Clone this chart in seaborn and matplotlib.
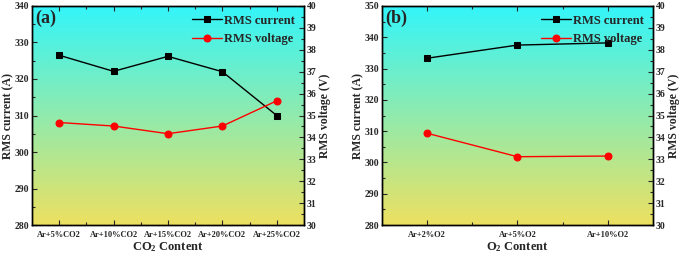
import numpy as np
import pandas as pd
import seaborn as sns
import matplotlib.pyplot as plt
from matplotlib.ticker import MultipleLocator

# panel (a): CO2 content
co2_labels = ["Ar+5%CO2", "Ar+10%CO2", "Ar+15%CO2", "Ar+20%CO2", "Ar+25%CO2"]
co2_current = [326.5, 322.1, 326.2, 322.0, 310.0]
co2_voltage = [34.68, 34.52, 34.17, 34.52, 35.67]

# panel (b): O2 content
o2_labels = ["Ar+2%O2", "Ar+5%O2", "Ar+10%O2"]
o2_current = [333.3, 337.5, 338.2]
o2_voltage = [34.19, 33.12, 33.15]

sns.set_style("ticks")
plt.rcParams['font.family'] = ['Liberation Serif', 'DejaVu Serif']
plt.rcParams['font.weight'] = 'bold'
plt.rcParams['mathtext.fontset'] = 'custom'
plt.rcParams['mathtext.bf'] = 'Liberation Serif:bold'
plt.rcParams['mathtext.rm'] = 'Liberation Serif:bold'
plt.rcParams['mathtext.default'] = 'bf'

fig = plt.figure(figsize=(6.85, 2.59), dpi=100)
ax_a = fig.add_axes([0.0467, 0.131, 0.397, 0.846])
ax_b = fig.add_axes([0.5577, 0.131, 0.3953, 0.846])

top_col = np.array([0.20, 0.96, 0.98])
bot_col = np.array([0.93, 0.88, 0.38])
grad = np.linspace(0, 1, 256)[:, None, None]
grad_img = top_col * (1 - grad) + bot_col * grad


def draw_panel(ax, labels, current, voltage, ylim, tag, xlabel):
    ax.imshow(grad_img, extent=[0, 1, 0, 1], transform=ax.transAxes,
              aspect='auto', zorder=0)
    df = pd.DataFrame({"cond": labels, "current": current, "voltage": voltage})
    sns.lineplot(data=df, x="cond", y="current", ax=ax, color="black",
                 marker="s", markersize=5, linewidth=1, markeredgecolor="black",
                 label="RMS current", legend=False, sort=False, zorder=3)
    ax2 = ax.twinx()
    sns.lineplot(data=df, x="cond", y="voltage", ax=ax2, color="red",
                 marker="o", markersize=5, linewidth=1, markeredgecolor="red",
                 label="RMS voltage", legend=False, sort=False, zorder=3)
    n = len(labels)
    ax.set_xlim(-0.5, n - 0.5)
    ax.set_ylim(*ylim)
    ax2.set_ylim(30, 40)
    ax.yaxis.set_major_locator(MultipleLocator(10))
    ax.yaxis.set_minor_locator(MultipleLocator(5))
    ax2.yaxis.set_major_locator(MultipleLocator(1))
    ax2.yaxis.set_minor_locator(MultipleLocator(0.5))
    ax.set_xticks(range(n))
    ax.set_xticks(np.arange(n - 1) + 0.5, minor=True)
    ax.tick_params(axis='both', which='both', direction='in', top=True,
                   labelsize=7, width=0.8, pad=2)
    ax.tick_params(axis='x', labelsize=6, pad=4)
    ax.tick_params(which='major', length=3.5)
    ax.tick_params(which='minor', length=2)
    ax2.tick_params(axis='y', which='both', direction='in', labelsize=7,
                    width=0.8, pad=2)
    ax2.tick_params(which='major', length=3.5)
    ax2.tick_params(which='minor', length=2)
    for a in (ax, ax2):
        for s in a.spines.values():
            s.set_linewidth(1.0)
            s.set_color("black")
        for t in a.get_xticklabels() + a.get_yticklabels():
            t.set_fontweight('bold')
    ax.set_ylabel("RMS current (A)", fontsize=8.5, fontweight='bold', labelpad=0.5)
    ax2.set_ylabel("RMS voltage (V)", fontsize=8.5, fontweight='bold', labelpad=2)
    ax.set_xlabel(xlabel, fontsize=9, fontweight='bold', labelpad=1)
    ax.text(0.012, 0.985, tag, transform=ax.transAxes, fontsize=13,
            fontweight='bold', va='top', ha='left', zorder=5)
    h1, l1 = ax.get_legend_handles_labels()
    h2, l2 = ax2.get_legend_handles_labels()
    ax2.legend(h1 + h2, l1 + l2, loc="upper right", frameon=False,
               prop={'size': 9, 'weight': 'bold'}, handlelength=2.4,
               handletextpad=0.2, borderaxespad=0.3, labelspacing=0.5)


draw_panel(ax_a, co2_labels, co2_current, co2_voltage, (280, 340), "(a)",
           r"CO$_2$ Content")
draw_panel(ax_b, o2_labels, o2_current, o2_voltage, (280, 350), "(b)",
           r"O$_2$ Content")

fig.savefig("out.png", dpi=100)
